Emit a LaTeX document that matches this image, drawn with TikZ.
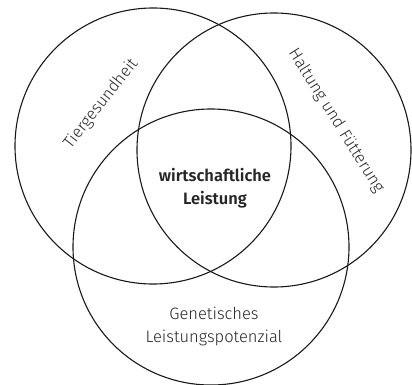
\documentclass[tikz,border=0pt]{standalone}
\usepackage{fontspec}
\setmainfont{Fira Sans Light}[BoldFont={Fira Sans SemiBold}]
\begin{document}
\begin{tikzpicture}[x=1pt,y=-1pt,
  ring/.style={draw=black!90,line width=1.1pt},
  lbl/.style={font=\fontsize{16.5}{23}\selectfont,inner sep=0pt,align=center,text=black!85}]
\useasboundingbox (0,0) rectangle (412,385);
\node[ring,circle,minimum size=276pt,inner sep=0pt] (tg) at (153,146) {};
\node[ring,circle,minimum size=274pt,inner sep=0pt] (hf) at (274,150) {};
\node[ring,circle,minimum size=276pt,inner sep=0pt] (gl) at (211,247) {};
\node[lbl,rotate=52] (t1) at (101,104) {Tiergesundheit};
\node[lbl,rotate=-58] (t2) at (336,121) {Haltung und Fütterung};
\node[lbl,font=\fontsize{16.5}{23}\selectfont\bfseries] (t3) at (215,188) {wirtschaftliche\\Leistung};
\node[lbl] (t4) at (214,326) {Genetisches\\Leistungspotenzial};
\end{tikzpicture}
\end{document}
